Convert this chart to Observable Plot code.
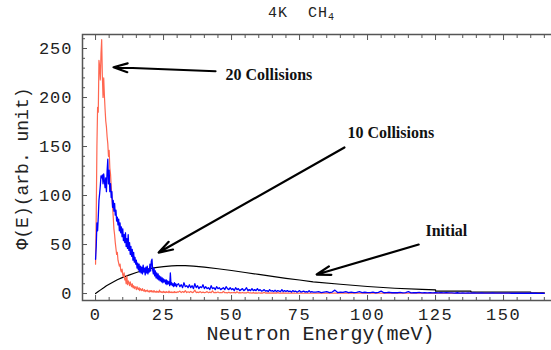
<!DOCTYPE html>
<html><head><meta charset="utf-8">
<script src="https://cdn.jsdelivr.net/npm/d3@7"></script>
<script src="https://cdn.jsdelivr.net/npm/@observablehq/plot@0.6"></script>
<style>
body{margin:0;background:#fff;width:551px;height:350px;overflow:hidden;position:relative}
#title{position:absolute;left:268px;top:5px;font-family:'Liberation Mono',monospace;font-size:15px;white-space:pre;color:#222;letter-spacing:1px}
#title sub{font-size:10px;vertical-align:-3px;line-height:0}
#chart{position:absolute;left:0;top:26px}
#chart svg g[aria-label="x-axis tick label"] text{letter-spacing:1.5px}
#chart svg g[aria-label="y-axis tick label"] text{letter-spacing:1px}
</style></head><body>
<div id="title">4K  CH<sub>4</sub></div>
<div id="chart"></div>
<script>
// ---- data ----
const title = "4K CH4";
const xLabel = "Neutron Energy(meV)";
const yLabel = "Φ(E)(arb. unit)";
const xTicks = [0, 25, 50, 75, 100, 125, 150];
const xMinor = [5,10,15,20,30,35,40,45,55,60,65,70,80,85,90,95,105,110,115,120,130,135,140,145,155,160,165];
const yTicks = [0, 50, 100, 150, 200, 250];
const yMinor = [10,20,30,40,60,70,80,90,110,120,130,140,160,170,180,190,210,220,230,240,260];

// histogram bins: low part 0..30 meV (0.25 meV), mid 30.5..80 (0.5 meV), high 81..165 (1 meV)
const lowStart = 0, lowStep = 0.25;
const midStart = 30.5, midStep = 0.5;
const highStart = 81, highStep = 1;

const red20Low = [
  30, 80, 150, 190, 185, 238, 232, 218,
  245, 259, 222, 200, 220, 202, 188, 176,
  170, 160, 153, 140, 146, 128, 122, 110,
  98, 90, 78, 66, 60, 52, 46, 40,
  42, 34, 31, 28, 30, 24, 22, 25,
  19, 17, 21, 14, 16, 10, 18, 9,
  13, 11, 8, 12, 9, 7, 10, 6,
  8, 5, 7, 6, 4, 7, 5, 4,
  6, 3, 5, 4, 3, 5, 3, 2.5,
  4, 2, 3, 2.5, 3.5, 2, 2.5, 1.5,
  3, 2, 3, 1.5, 2.5, 1.5, 3, 1.5,
  2, 1.2, 2.5, 1.5, 2, 1.2, 3.5, 1.5,
  2, 1.2, 1.8, 1, 2.2, 1.2, 1.6, 1,
  2, 1.2, 1.5, 1, 2.5, 1, 1.5, 1,
  1.8, 1, 1.4, 1, 2, 1, 1.4, 1,
  1.6
];
const red20Mid = [
  1.5,2.5,1,2,1.2,3,1,1.8,1,2.2,1,1.5,3.5,1,1.4,1,2,0.8,1.5,1,
  1.2,2,0.8,1.4,1,2.8,0.8,1.2,1,1.6,0.8,1.1,0.8,2.2,0.8,1,0.7,1.4,0.7,1,
  0.8,1.2,0.6,1.8,0.7,0.9,0.6,1.1,0.6,0.8,0.6,1.5,0.6,0.8,0.5,0.9,0.5,0.7,0.5,0.8,
  0.5,0.7,0.5,1.2,0.5,0.6,0.4,0.7,0.5,0.6,0.4,0.6,0.4,0.9,0.4,0.5,0.4,0.6,0.4,0.5,
  0.4,0.5,0.3,0.6,0.4,0.5,0.3,0.5,0.3,0.4,0.3,0.5,0.3,0.4,0.3,0.4,0.3,0.4,0.3,0.3
];
const red20High = [
  0.3,0.4,0.3,0.3,0.5,0.3,0.3,0.4,0.3,0.3,
  0.3,0.4,0.3,0.3,0.3,0.4,0.3,0.3,0.3,0.3,
  0.3,0.3,0.4,0.3,0.3,0.3,0.3,0.3,0.3,0.3,
  0.3,0.3,0.3,0.3,0.3,0.3,0.3,0.3,0.3,0.3,
  0.3,0.3,0.3,0.3,0.3,0.3,0.3,0.3,0.3,0.3,
  0.3,0.3,0.3,0.3,0.3,0.3,0.3,0.3,0.3,0.3,
  0.3,0.3,0.3,0.3,0.3,0.3,0.3,0.3,0.3,0.3,
  0.3,0.3,0.3,0.3,0.3,0.3,0.3,0.3,0.3,0.3,
  0.3,0.3,0.3,0.3,0.3
];

const blue10Low = [
  35, 48, 72, 64, 78, 95, 102, 110,
  120, 118, 121, 112, 122, 115, 108, 118,
  104, 125, 137, 112, 126, 104, 112, 98,
  104, 88, 95, 84, 92, 80, 85, 74,
  78, 70, 76, 64, 72, 62, 68, 58,
  66, 54, 60, 52, 62, 48, 56, 46,
  60, 44, 52, 40, 48, 38, 45, 34,
  42, 32, 37, 30, 34, 26, 31, 24,
  30, 22, 28, 21, 27, 20, 29, 22,
  26, 19, 27, 21, 28, 20, 25, 22,
  30, 23, 33, 35, 24, 20, 26, 18,
  23, 16, 21, 15, 20, 14, 18, 13,
  17, 12, 16, 11, 15, 12, 14, 10,
  14, 9, 13, 10, 12, 8, 21, 9,
  11, 8, 10, 7, 11, 8, 10, 7,
  9
];
const blue10Mid = [
  10,7,9,6,11,7,8,6,9,6,8,5,10,6,8,5,7,6,9,5,
  7,5,6,4,8,5,6,4,7,5,6,4,5,6,4,7,5,4,6,4,
  5,3,6,4,5,3,4,5,3,4,6,3,4,3,5,3,4,3,5,3,
  4,2.5,3,4,2.5,3,2,4,2.5,3,2,3.5,2,3,2.5,2,4,2,3,2,
  3,2,2.5,1.5,3,2,2.5,1.5,2,3,1.5,2,2.5,1.5,2,1.5,3,1.5,2,1.5
];
const blue10High = [
  1.5,2,1,1.5,2,1,1.5,3.5,1,1.5,
  1.2,2,1,1.5,1,1.2,2,1,1.3,1,
  1,1.5,0.8,1.2,2.5,0.8,1,1.3,0.8,1,
  0.8,1.2,0.7,1,2,0.7,1,0.8,1.1,0.7,
  0.8,0.6,1,0.7,0.9,0.6,0.8,0.6,1,0.6,
  0.7,0.5,0.8,0.5,0.7,0.5,0.6,0.5,0.7,0.4,
  0.5,0.6,0.4,0.5,0.4,0.6,0.4,0.5,0.4,0.4,
  0.4,0.5,0.3,0.4,0.3,0.4,0.3,0.4,0.3,0.3,
  0.3,0.3,0.2,0.3,0.2
];

const initE = [0,1,2,3,4,5,6,8,10,12,15,18,20,22,25,28,30,33,36,40,45,50,55,60,65,70,75,80,90,100,110,120,125,125,138,138,160,160,165];
const initV = [0,2,4,6,8,9.5,11,14,16.5,18.5,21.5,24,25.5,26.5,27.5,28.2,28.4,28.4,28,27,25.3,23.5,21.5,19.5,17.5,15.5,13.8,12,9.5,7.2,5.4,4.2,3.8,2.4,2.4,1.5,1.5,0.7,0.7];

const annText = ["20 Collisions", "10 Collisions", "Initial"];
const annTextE = [47.8, 92.6, 121.3];
const annTextV = [223.5, 163.6, 64.3];
const arrowFromE = [44.1, 91.5, 118.8];
const arrowFromV = [226.8, 149, 50];
const arrowToE = [6.6, 23.2, 81.3];
const arrowToV = [230.9, 41.8, 19.4];

// ---- build tables ----
function segment(start, step, values) { return values.map((v, i) => ({E: start + i * step, V: v})); }
const red20 = [...segment(lowStart, lowStep, red20Low), ...segment(midStart, midStep, red20Mid), ...segment(highStart, highStep, red20High)];
const blue10 = [...segment(lowStart, lowStep, blue10Low), ...segment(midStart, midStep, blue10Mid), ...segment(highStart, highStep, blue10High)];
const initial = initE.map((e, i) => ({E: e, V: initV[i]}));
const ann = annText.map((t, i) => ({t, x: annTextE[i], y: annTextV[i], x1: arrowFromE[i], y1: arrowFromV[i], x2: arrowToE[i], y2: arrowToV[i]}));

const frameColor = "#555";
const chart = Plot.plot({
  width: 551, height: 324,
  marginLeft: 82, marginRight: -1, marginTop: 8, marginBottom: 50,
  style: {fontFamily: "'Liberation Mono', 'Courier New', monospace", fontSize: "17px", color: "#222", background: "white", overflow: "hidden"},
  x: {domain: [-4.8, 168]},
  y: {domain: [-7.1, 264.3]},
  marks: [
    Plot.line(initial, {x: "E", y: "V", stroke: "black", strokeWidth: 1.2}),
    Plot.line(red20, {x: "E", y: "V", stroke: "#ff6650", strokeWidth: 1.2}),
    Plot.line(blue10, {x: "E", y: "V", stroke: "#0000ff", strokeWidth: 1.3}),
    Plot.arrow(ann, {x1: "x1", y1: "y1", x2: "x2", y2: "y2", stroke: "black", strokeWidth: 2.2, headLength: 10, headAngle: 35}),
    Plot.text(ann, {x: "x", y: "y", text: "t", textAnchor: "start", fontFamily: "'Liberation Serif', 'Times New Roman', serif", fontWeight: "bold", fontSize: 16, fill: "#111"}),
    Plot.frame({stroke: frameColor, strokeWidth: 1.5}),
    Plot.axisX(xTicks, {anchor: "bottom", tickSize: 0, tickPadding: 7, label: null}),
    Plot.axisY(yTicks, {anchor: "left", tickSize: 0, tickPadding: 10, label: null}),
    Plot.axisX(xTicks, {anchor: "bottom", tickSize: -5, tickFormat: () => "", label: null, stroke: frameColor}),
    Plot.axisX(xMinor, {anchor: "bottom", tickSize: -3, tickFormat: () => "", label: null, stroke: frameColor}),
    Plot.axisX(xTicks, {anchor: "top", tickSize: -5, tickFormat: () => "", label: null, stroke: frameColor}),
    Plot.axisX(xMinor, {anchor: "top", tickSize: -3, tickFormat: () => "", label: null, stroke: frameColor}),
    Plot.axisY(yTicks, {anchor: "left", tickSize: -5, tickFormat: () => "", label: null, stroke: frameColor}),
    Plot.axisY(yMinor, {anchor: "left", tickSize: -3, tickFormat: () => "", label: null, stroke: frameColor}),
    Plot.text([xLabel], {frameAnchor: "bottom", dx: 3, dy: 33, textAnchor: "middle", lineAnchor: "middle", fontSize: 20, fill: "#222"}),
    Plot.text([yLabel], {frameAnchor: "left", dx: -60.5, dy: 1, rotate: -90, textAnchor: "middle", lineAnchor: "middle", fontSize: 18, fill: "#222"})
  ]
});
document.getElementById("chart").appendChild(chart);
</script>
</body></html>
